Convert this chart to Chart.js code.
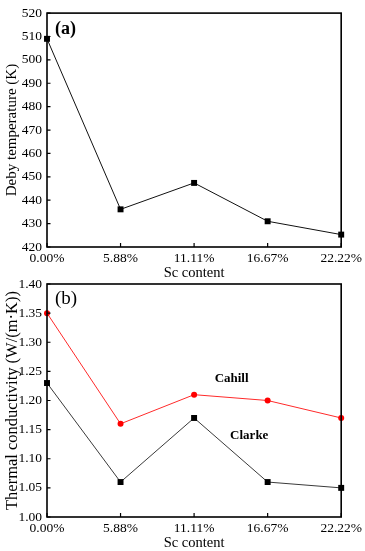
<!DOCTYPE html>
<html><head><meta charset="utf-8">
<script src="https://cdn.jsdelivr.net/npm/chart.js@4/dist/chart.umd.min.js"></script>
<style>
html,body{margin:0;padding:0;background:#fff;width:365px;height:551px;overflow:hidden}
canvas{position:absolute;left:0}
#c1{top:0}
#c2{top:270px}
</style></head><body>
<canvas id="c1" width="365" height="282"></canvas>
<canvas id="c2" width="365" height="282"></canvas>
<script>
const categories = ["0.00%", "5.88%", "11.11%", "16.67%", "22.22%"];
const debyeTemp = [509, 436.1, 447.4, 431, 425.3];
const cahill = [1.35, 1.16, 1.21, 1.20, 1.17];
const clarke = [1.23, 1.06, 1.17, 1.06, 1.05];
const debyeTicks = [420, 430, 440, 450, 460, 470, 480, 490, 500, 510, 520];
const kTicks = [1.00, 1.05, 1.10, 1.15, 1.20, 1.25, 1.30, 1.35, 1.40];

const FONT = "'Liberation Serif', 'Times New Roman', serif";

const framePlugin = {
  id: 'frame',
  afterDatasetsDraw(chart, args, opts) {
    const {ctx, chartArea: a, scales} = chart;
    ctx.save();
    ctx.strokeStyle = '#000';
    ctx.lineWidth = 1.6;
    ctx.strokeRect(a.left, a.top, a.right - a.left, a.bottom - a.top);
    ctx.lineWidth = 1.2;
    ctx.beginPath();
    scales.y.ticks.forEach((t, i) => {
      const y = scales.y.getPixelForTick(i);
      ctx.moveTo(a.left, y); ctx.lineTo(a.left + 3.5, y);
    });
    scales.x.ticks.forEach((t, i) => {
      const x = scales.x.getPixelForTick(i);
      ctx.moveTo(x, a.bottom); ctx.lineTo(x, a.bottom - 4);
    });
    ctx.stroke();
    ctx.fillStyle = '#000';
    ctx.font = opts.panelFont + ' ' + FONT;
    ctx.textAlign = 'left';
    ctx.textBaseline = 'middle';
    ctx.fillText(opts.panel, a.left + 8, a.top + opts.panelDy);
    (opts.notes || []).forEach(n => {
      ctx.font = 'bold 13px ' + FONT;
      ctx.textAlign = 'center';
      ctx.fillText(n.text, scales.x.getPixelForValue(n.x), scales.y.getPixelForValue(n.y));
    });
    ctx.restore();
  }
};

function makeOptions(cfg) {
  return {
    responsive: false,
    animation: false,
    layout: {padding: {left: 0, right: 23, top: cfg.top, bottom: 0}},
    plugins: {legend: {display: false}, tooltip: {enabled: false},
      frame: {panel: cfg.panel, panelFont: cfg.panelFont, panelDy: cfg.panelDy, notes: cfg.notes}},
    scales: {
      x: {
        type: 'category',
        offset: false,
        grid: {display: false, drawTicks: false},
        border: {display: false},
        ticks: {color: '#000', font: {family: FONT, size: 13.5}, padding: 3, maxRotation: 0, autoSkip: false},
        title: {display: true, text: 'Sc content', color: '#000', font: {family: FONT, size: 14.5}, padding: {top: 0, bottom: 0}},
        afterFit(s) { s.height = cfg.xh; }
      },
      y: {
        min: cfg.min, max: cfg.max,
        afterBuildTicks(s) { s.ticks = cfg.ticks.map(v => ({value: v})); },
        grid: {display: false, drawTicks: false},
        border: {display: false},
        ticks: {color: '#000', font: {family: FONT, size: 13.5}, padding: 5, callback: cfg.fmt},
        title: {display: true, text: cfg.ytitle, color: '#000', font: {family: FONT, size: cfg.ytSize}, padding: {top: 3, bottom: 0}},
        afterFit(s) { s.width = 47; }
      }
    }
  };
}

new Chart(document.getElementById('c1'), {
  type: 'line',
  data: {
    labels: categories,
    datasets: [{
      data: debyeTemp, borderColor: '#111', borderWidth: 1, pointStyle: 'rect',
      pointRadius: 4.2, backgroundColor: '#000', pointBackgroundColor: '#000', pointBorderWidth: 0, clip: false
    }]
  },
  options: makeOptions({top: 11, xh: 35, min: 420, max: 520, ticks: debyeTicks, fmt: v => String(v),
    ytitle: 'Deby temperature (K)', ytSize: 15, panel: '(a)', panelFont: 'bold 18px', panelDy: 16.5, notes: []}),
  plugins: [framePlugin]
});

new Chart(document.getElementById('c2'), {
  type: 'line',
  data: {
    labels: categories,
    datasets: [{
      data: cahill, borderColor: '#ff2a2a', borderWidth: 1, pointStyle: 'circle',
      pointRadius: 3, pointBackgroundColor: '#ff0000', pointBorderWidth: 0, clip: false
    }, {
      data: clarke, borderColor: '#3a3a3a', borderWidth: 1, pointStyle: 'rect',
      pointRadius: 4.2, pointBackgroundColor: '#000', pointBorderWidth: 0, clip: false
    }]
  },
  options: makeOptions({top: 14, xh: 35, min: 1.0, max: 1.4, ticks: kTicks, fmt: v => Number(v).toFixed(2),
    ytitle: 'Thermal conductivity (W/(m\u00B7K))', ytSize: 16.5, panel: '(b)', panelFont: '19px', panelDy: 15,
    notes: [{text: 'Cahill', x: 2.51, y: 1.237}, {text: 'Clarke', x: 2.75, y: 1.139}]}),
  plugins: [framePlugin]
});
</script>
</body></html>
